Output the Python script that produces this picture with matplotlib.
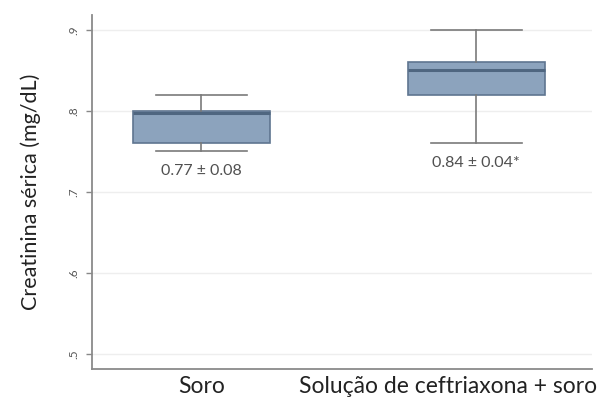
import matplotlib
matplotlib.use("Agg")
import matplotlib.pyplot as plt

GROUPS = ["Soro", "Solução de ceftriaxona + soro"]
WHISKER_LOW = [0.75, 0.76]
Q1 = [0.76, 0.82]
MEDIAN = [0.797, 0.85]
Q3 = [0.80, 0.86]
WHISKER_HIGH = [0.82, 0.90]
NOTES = ["0.77 ± 0.08", "0.84 ± 0.04*"]
YTICKS = [0.5, 0.6, 0.7, 0.8, 0.9]
YTICKLABELS = [".5", ".6", ".7", ".8", ".9"]
LABEL_SHIFT = [0, -20]  # points, the long label sits left of its box


def main():
    plt.rcParams["font.family"] = ["Lato", "DejaVu Sans"]
    fig = plt.figure(figsize=(6.04, 4.01), dpi=100)
    ax = fig.add_axes([0.1523, 0.0798, 0.8275, 0.8828])

    stats = []
    for i, name in enumerate(GROUPS):
        stats.append({"label": name, "whislo": WHISKER_LOW[i], "q1": Q1[i],
                      "med": MEDIAN[i], "q3": Q3[i], "whishi": WHISKER_HIGH[i],
                      "fliers": []})
    ax.bxp(stats, positions=[1, 2], widths=0.5, capwidths=0.33,
           showfliers=False, patch_artist=True,
           boxprops=dict(facecolor="#8ca3bd", edgecolor="#5f7590", linewidth=1.2),
           medianprops=dict(color="#4f6680", linewidth=2.2),
           whiskerprops=dict(color="#7a7a7a", linewidth=1.2),
           capprops=dict(color="#7a7a7a", linewidth=1.2))

    # mean +- sd under each lower whisker
    for i, note in enumerate(NOTES):
        ax.annotate(note, (i + 1, WHISKER_LOW[i]), xytext=(0, -9),
                    textcoords="offset points", ha="center", va="top",
                    fontsize=11.5, color="#505050")

    # group names under the axis
    ax.set_xticks([1, 2])
    ax.set_xticklabels(["", ""])
    for i, name in enumerate(GROUPS):
        ax.annotate(name, (i + 1, 0), xycoords=ax.get_xaxis_transform(),
                    xytext=(LABEL_SHIFT[i], -5), textcoords="offset points",
                    ha="center", va="top", fontsize=16.5, color="#222222")

    ax.set_xlim(0.602, 2.42)
    ax.set_ylim(0.4815, 0.9185)
    ax.set_yticks(YTICKS)
    ax.set_yticklabels(YTICKLABELS, rotation=90, va="center",
                       fontsize=8.5, color="#555555")
    ax.tick_params(axis="x", length=0)
    ax.tick_params(axis="y", length=4, width=1, color="#888888", pad=5)
    ax.yaxis.grid(True, color="#eeeeee", linewidth=1)
    ax.set_axisbelow(True)
    for s in ["top", "right"]:
        ax.spines[s].set_visible(False)
    for s in ["left", "bottom"]:
        ax.spines[s].set_color("#8a8a8a")
        ax.spines[s].set_linewidth(1.3)
    ax.set_ylabel("Creatinina sérica (mg/dL)", fontsize=15.5, color="#222222",
                  labelpad=20)
    fig.savefig("out.png", dpi=100)


if __name__ == '__main__':
    main()
